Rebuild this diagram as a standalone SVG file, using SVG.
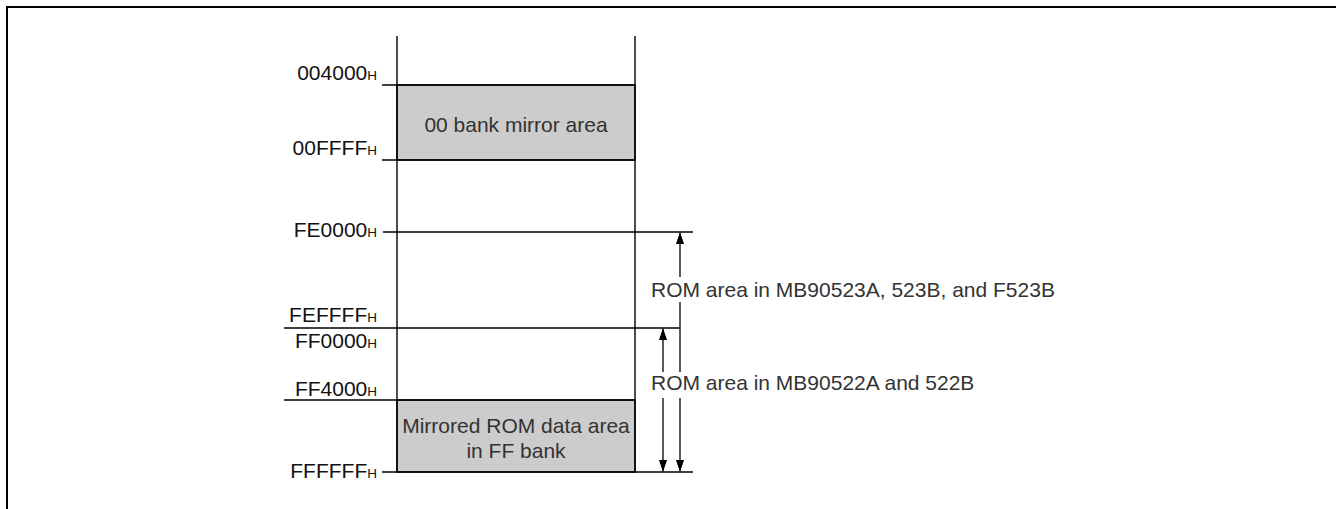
<svg xmlns="http://www.w3.org/2000/svg" width="1336" height="509" viewBox="0 0 1336 509">
<style>
.ln{stroke:#000;stroke-width:1.4;fill:none}
.ar{stroke:#333;stroke-width:1.6;fill:none}
.lbl{font-family:"Liberation Sans",Arial,sans-serif;font-size:21px;fill:#111;text-anchor:end}
.h{font-size:13.5px}
.box{fill:#cccccc;stroke:#000;stroke-width:1.4}
.bt{font-family:"Liberation Sans",Arial,sans-serif;font-size:21px;fill:#333;text-anchor:middle}
.rl{font-family:"Liberation Sans",Arial,sans-serif;font-size:21px;fill:#333}
</style>
<defs>
<marker id="ah" viewBox="0 0 12 8" refX="12" refY="4" markerWidth="12" markerHeight="8" markerUnits="userSpaceOnUse" orient="auto-start-reverse">
<path d="M0,0 L12,4 L0,8 Z" fill="#000"/>
</marker>
</defs>
<rect width="1336" height="509" fill="#fff"/>
<path d="M7,509 V7 H1336" fill="none" stroke="#000" stroke-width="2"/>
<g id="memory-map">
<rect id="bank00-mirror" class="box" x="397" y="85" width="238" height="75"/>
<rect id="ff-mirror" class="box" x="397" y="400" width="238" height="72"/>
<line class="ln" x1="397" y1="36" x2="397" y2="472"/>
<line class="ln" x1="635" y1="36" x2="635" y2="472"/>
<text class="bt" x="516" y="132">00 bank mirror area</text>
<text class="bt" x="516" y="433">Mirrored ROM data area</text>
<text class="bt" x="516" y="458">in FF bank</text>
</g>
<g id="addresses">
<line class="ln" x1="382" y1="85" x2="635" y2="85"/>
<line class="ln" x1="382" y1="160" x2="635" y2="160"/>
<line class="ln" x1="383" y1="232" x2="693" y2="232"/>
<line class="ln" x1="284" y1="328" x2="680" y2="328"/>
<line class="ln" x1="284" y1="400" x2="635" y2="400"/>
<line class="ln" x1="382" y1="472" x2="693" y2="472"/>
<text class="lbl" x="377" y="80">004000<tspan class="h">H</tspan></text>
<text class="lbl" x="377" y="155">00FFFF<tspan class="h">H</tspan></text>
<text class="lbl" x="377" y="237">FE0000<tspan class="h">H</tspan></text>
<text class="lbl" x="377" y="322">FEFFFF<tspan class="h">H</tspan></text>
<text class="lbl" x="377" y="348">FF0000<tspan class="h">H</tspan></text>
<text class="lbl" x="377" y="396">FF4000<tspan class="h">H</tspan></text>
<text class="lbl" x="377" y="478">FFFFFF<tspan class="h">H</tspan></text>
</g>
<g id="connectors">
<line class="ar" x1="680" y1="277" x2="680" y2="232" marker-end="url(#ah)"/>
<line class="ar" x1="680" y1="302" x2="680" y2="372"/>
<line class="ar" x1="680" y1="398" x2="680" y2="472" marker-end="url(#ah)"/>
<line class="ar" x1="663" y1="372" x2="663" y2="328" marker-end="url(#ah)"/>
<line class="ar" x1="663" y1="398" x2="663" y2="472" marker-end="url(#ah)"/>
</g>
<g id="rom-labels">
<text class="rl" x="651" y="297">ROM area in MB90523A, 523B, and F523B</text>
<text class="rl" x="651" y="390">ROM area in MB90522A and 522B</text>
</g>
</svg>
